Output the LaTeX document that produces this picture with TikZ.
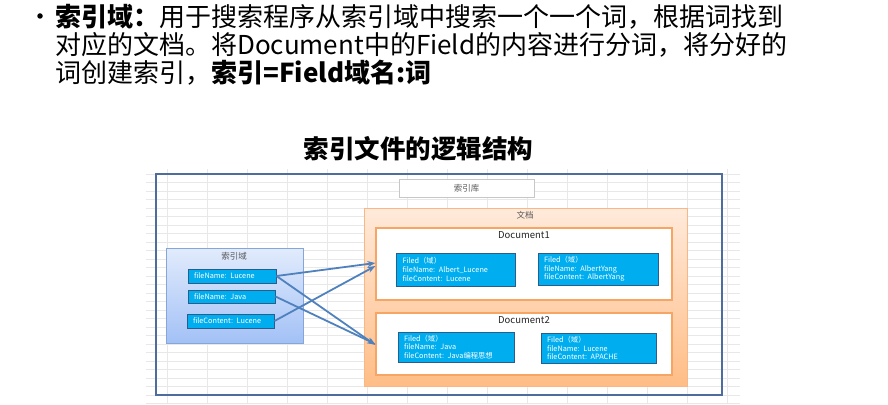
\documentclass[tikz,border=0pt]{standalone}
\usepackage{fontspec}
\setmainfont{Noto Sans CJK SC}
\usetikzlibrary{arrows.meta}
\definecolor{frameblue}{HTML}{4E6C9C}
\definecolor{gridgray}{HTML}{E8E8E8}
\definecolor{cyanfill}{HTML}{00AEEF}
\definecolor{cyanborder}{HTML}{2A5C8C}
\definecolor{arrowblue}{HTML}{4F81BD}
\definecolor{orangeborder}{HTML}{F6A565}
\definecolor{orangetop}{HTML}{FFEADB}
\definecolor{orangebottom}{HTML}{FFBD86}
\definecolor{bluetop}{HTML}{E1EBFC}
\definecolor{bluebottom}{HTML}{A3C1F6}
\definecolor{blueborder}{HTML}{86A6DA}
\definecolor{labelgray}{HTML}{595959}
\tikzset{
  gridline/.style={draw=gridgray, line width=0.8pt},
  fieldbox/.style={draw=cyanborder, line width=0.9pt, fill=cyanfill, inner sep=0pt,
    align=left, text=white, font=\fontsize{7.3}{8.6}\selectfont},
  keybox/.style={draw=cyanborder, line width=0.9pt, fill=cyanfill, inner sep=0pt,
    align=left, text=white, font=\fontsize{7.3}{8.6}\selectfont},
  docbox/.style={draw=orangeborder, line width=1.2pt, fill=white, inner sep=0pt},
  smalllabel/.style={text=labelgray, font=\fontsize{8.5}{9}\selectfont, inner sep=0pt},
  doclabel/.style={text=black!85, font=\fontsize{9.5}{10}\selectfont, inner sep=0pt},
  link/.style={draw=arrowblue, line width=1.8pt, -{Stealth[length=8pt,width=6pt]}},
  bodytext/.style={anchor=base west, inner sep=0pt, font=\fontsize{26}{27}\selectfont},
}
\begin{document}
\begin{tikzpicture}[x=1pt,y=-1pt]
\useasboundingbox (0,0) rectangle (888,404);
% top paragraph
\node[circle, fill=black, inner sep=0pt, minimum size=5.5pt] (bullet) at (40,16) {};
\node[bodytext] (line1) at (55,27) {\textbf{索引域：}用于搜索程序从索引域中搜索一个一个词，根据词找到};
\node[bodytext] (line2) at (55,54.5) {对应的文档。将Document中的Field的内容进行分词，将分好的};
\node[bodytext] (line3) at (55,82) {词创建索引，\textbf{索引=Field域名:词}};
% title
\node[anchor=base, inner sep=0pt, font=\fontsize{25.5}{26}\selectfont\bfseries] (title) at (418.5,158) {索引文件的逻辑结构};
% spreadsheet grid
\foreach \k in {0,...,27} {\draw[gridline] (146,174+8.5*\k) -- (740,174+8.5*\k);}
\foreach \k in {0,...,14} {\draw[gridline] (167+40*\k,169) -- (167+40*\k,404);}
% outer frame
\node[draw=frameblue, line width=1.5pt, inner sep=0pt, minimum width=566pt, minimum height=221pt] (frame) at (439,284.5) {};
% index library
\node[draw=black!22, line width=0.8pt, fill=white, inner sep=0pt, minimum width=135pt, minimum height=18pt,
  text=labelgray, font=\fontsize{8.5}{9}\selectfont] (lib) at (466.5,188) {索引库};
% document container
\node[draw=orangeborder!80, line width=1pt, top color=orangetop, bottom color=orangebottom,
  inner sep=0pt, minimum width=323pt, minimum height=178pt] (docs) at (525.5,297) {};
\node[smalllabel] (docslabel) at (525,215) {文档};
% Document1
\node[docbox, minimum width=296pt, minimum height=72pt] (doc1) at (524,264) {};
\node[doclabel] (doc1label) at (524,235) {Document1};
\node[fieldbox, minimum width=119pt, minimum height=33pt, text width=106pt] (f11) at (455.5,269.5)
  {Filed（域）\\fileName: Albert\_Lucene\\fileContent: Lucene};
\node[fieldbox, minimum width=120pt, minimum height=32pt, text width=108pt] (f12) at (598,269)
  {Filed（域）\\fileName: AlbertYang\\fileContent: AlbertYang};
% Document2
\node[docbox, minimum width=296pt, minimum height=62pt] (doc2) at (524,344) {};
\node[doclabel] (doc2label) at (524,320) {Document2};
\node[fieldbox, minimum width=116pt, minimum height=30pt, text width=104pt] (f21) at (456,347)
  {Filed（域）\\fileName: Java\\fileContent: Java编程思想};
\node[fieldbox, minimum width=115pt, minimum height=30pt, text width=103pt] (f22) at (598.5,348)
  {Filed（域）\\fileName: Lucene\\fileContent: APACHE};
% index field container
\node[draw=blueborder, line width=0.8pt, top color=bluetop, bottom color=bluebottom,
  inner sep=0pt, minimum width=137pt, minimum height=95pt] (idx) at (234.5,295.5) {};
\node[smalllabel] (idxlabel) at (234,256) {索引域};
\node[keybox, minimum width=88pt, minimum height=14pt, text width=76pt] (k1) at (232,276) {fileName: Lucene};
\node[keybox, minimum width=87pt, minimum height=13pt, text width=75pt] (k2) at (231.5,296.5) {fileName: Java};
\node[keybox, minimum width=87pt, minimum height=14pt, text width=75pt] (k3) at (230.5,321) {fileContent: Lucene};
% connectors
\draw[link] (k1.east) -- ([yshift=1pt]doc1.west);
\draw[link] (k3.east) -- ([yshift=-2pt]doc1.west);
\draw[link] (k1.east) -- ([yshift=-1pt]doc2.west);
\draw[link] (k2.east) -- ([yshift=0pt]doc2.west);
\end{tikzpicture}
\end{document}
